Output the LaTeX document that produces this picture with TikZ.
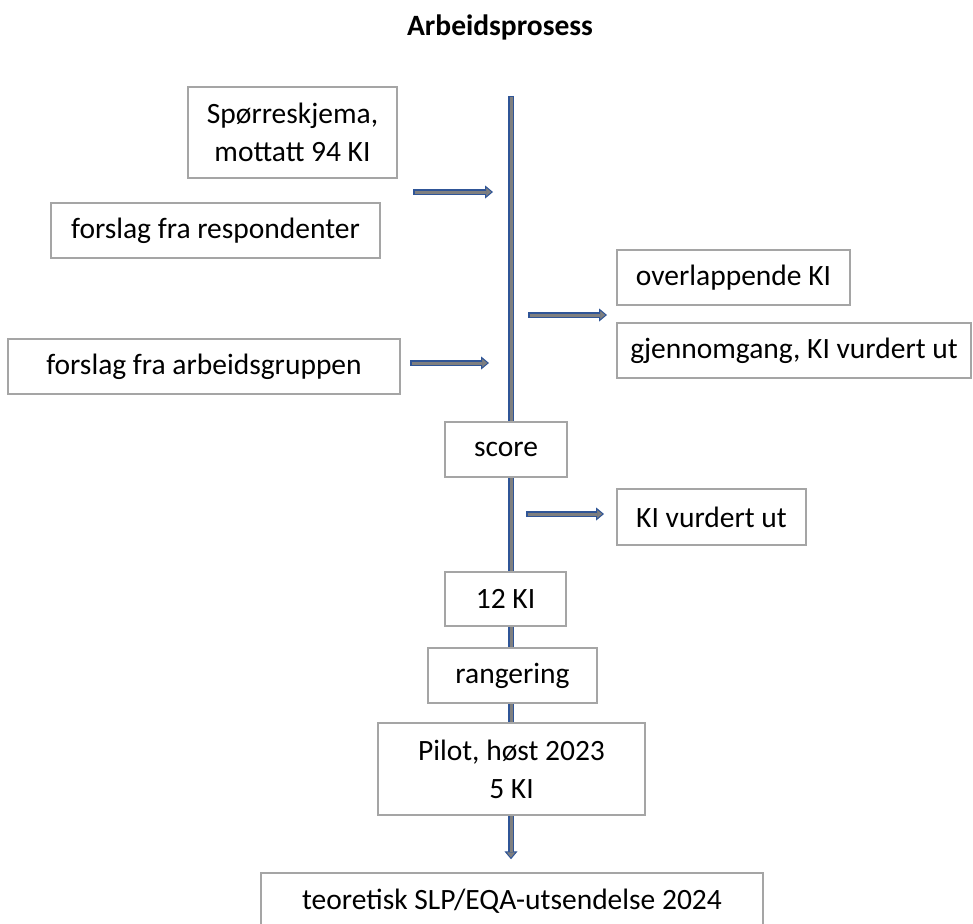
\documentclass[tikz,border=0pt]{standalone}
\usepackage{fontspec}
\setmainfont{Carlito}
\usetikzlibrary{arrows.meta,backgrounds}
\definecolor{pilblaa}{RGB}{47,85,151}
\definecolor{pilgraa}{RGB}{127,127,127}
\definecolor{boksgraa}{RGB}{165,165,165}
\tikzset{
  boks/.style={draw=boksgraa, line width=1.5pt, fill=white, inner sep=0pt,
    align=center, font=\fontsize{29.5}{38}\selectfont},
  pil/.style={draw=pilblaa, line width=6pt,
    -{Triangle[length=8pt,width=13pt,line width=1pt,fill=pilgraa]},
    postaction={draw=pilgraa, line width=3pt, -, shorten <=1.5pt, shorten >=7pt}},
}
\begin{document}
\begin{tikzpicture}[x=1pt,y=-1pt]
  \useasboundingbox (0,0) rectangle (973,923);

  % --- tittel ---
  \node[font=\fontsize{29.5}{38}\selectfont\bfseries] (tittel) at (500,27) {Arbeidsprosess};

  % --- innspill (venstre) ---
  \node[boks, minimum width=209pt, minimum height=91pt] (sporre) at (292.5,132.5) {Spørreskjema,\\mottatt 94 KI};
  \node[boks, minimum width=329pt, minimum height=55pt] (resp) at (215.5,230.5) {forslag fra respondenter};
  \node[boks, minimum width=392pt, minimum height=55pt] (arb) at (204,366.5) {forslag fra arbeidsgruppen};

  % --- utsortert (hoyre) ---
  \node[boks, minimum width=233pt, minimum height=55pt] (overl) at (733.5,277.5) {overlappende KI};
  \node[boks, minimum width=354pt, minimum height=55pt] (gjen) at (794,350.5) {gjennomgang, KI vurdert ut};
  \node[boks, minimum width=189pt, minimum height=56pt] (kiut) at (711.5,517) {KI vurdert ut};

  % --- trinn langs linja ---
  \node[boks, minimum width=122pt, minimum height=55pt] (score) at (506,449.5) {score};
  \node[boks, minimum width=121pt, minimum height=54pt] (ki12) at (505.5,599) {12 KI};
  \node[boks, minimum width=169pt, minimum height=55pt] (rang) at (512.5,675.5) {rangering};
  \node[boks, minimum width=267pt, minimum height=92pt] (pilot) at (511.5,769) {Pilot, høst 2023\\5 KI};
  \node[boks, minimum width=502pt, minimum height=57pt] (teo) at (512,901.5) {teoretisk SLP/EQA-utsendelse 2024};

  % --- hovedlinje ---
  \coordinate (linjetopp) at (511,96);
  \coordinate (linjebunn) at ([yshift=13pt]teo.north);
  \begin{scope}[on background layer]
    \draw[pil] (linjetopp) -- (linjetopp |- linjebunn);
  \end{scope}

  % --- piler inn ---
  \coordinate (inn1) at (413,192);
  \coordinate (inn1b) at (493,192);
  \coordinate (inn2) at (410,363);
  \coordinate (inn2b) at (489,363);
  \draw[pil] (inn1) -- (inn1b);
  \draw[pil] (inn2) -- (inn2b);

  % --- piler ut ---
  \coordinate (ut1) at (528,315);
  \coordinate (ut1b) at (607,315);
  \coordinate (ut2) at (526,514);
  \coordinate (ut2b) at (604,514);
  \draw[pil] (ut1) -- (ut1b);
  \draw[pil] (ut2) -- (ut2b);

\end{tikzpicture}
\end{document}
